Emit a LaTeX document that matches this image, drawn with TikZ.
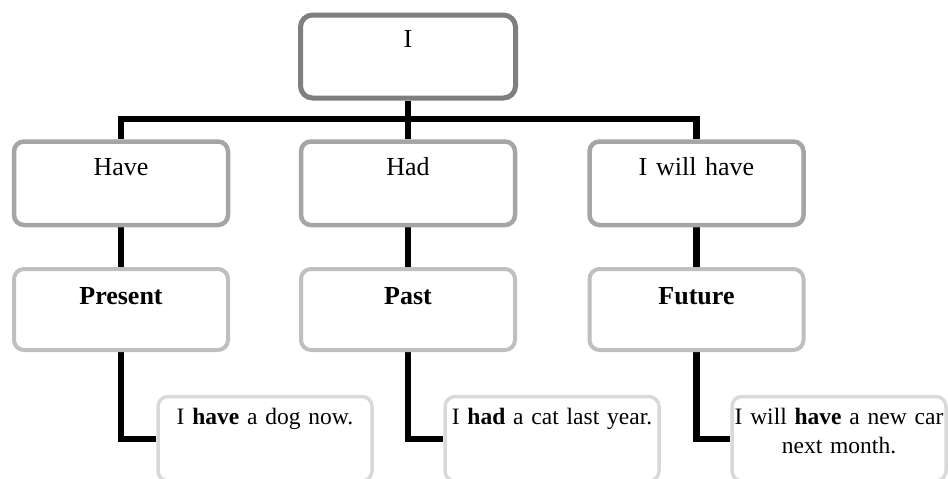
\documentclass[tikz,border=0pt]{standalone}
\usepackage{fontspec}
\setmainfont{Liberation Serif}
\usetikzlibrary{backgrounds}
\definecolor{rootgray}{HTML}{7F7F7F}
\definecolor{verbgray}{HTML}{A5A5A5}
\definecolor{tensegray}{HTML}{BFBFBF}
\definecolor{examplegray}{HTML}{D9D9D9}
\begin{document}
\begin{tikzpicture}[x=1pt, y=-1pt,
	box/.style={draw, fill=white, rounded corners=10pt, inner sep=0pt, text width=214pt, align=center, anchor=north},
	rootbox/.style={box, draw=rootgray, line width=5pt, rounded corners=12pt, text width=215pt, text height=32.5pt, text depth=50.5pt, font=\fontsize{26}{30}\selectfont},
	verbbox/.style={box, draw=verbgray, line width=4.5pt, text height=33.75pt, text depth=49.75pt, font=\fontsize{26}{30}\selectfont},
	tensebox/.style={box, draw=tensegray, line width=4pt, text height=35pt, text depth=46pt, font=\fontsize{26}{30}\bfseries\selectfont},
	examplebox/.style={box, draw=examplegray, line width=3.5pt, text height=28pt, text depth=56.5pt, font=\fontsize{23.5}{29}\selectfont},
	link/.style={line width=6.5pt}]
	\clip (0,0) rectangle (948,479);
	% Kotak utama
	\node[rootbox] (root) at (408,12.5) {I};
	% Baris kata kerja
	\node[verbbox] (have) at (121,139.25) {Have};
	\node[verbbox] (had) at (408,139.25) {Had};
	\node[verbbox] (willhave) at (696.5,139.25) {I will have};
	% Baris tenses
	\node[tensebox] (present) at (121,267) {Present};
	\node[tensebox] (past) at (408,267) {Past};
	\node[tensebox] (future) at (696.5,267) {Future};
	% Baris contoh kalimat
	\node[examplebox] (expresent) at (265,394.75) {I \textbf{have} a dog now.};
	\node[examplebox] (expast) at (552,394.75) {I \textbf{had} a cat last year.};
	\node[examplebox] (exfuture) at (839,394.75) {I will \textbf{have} a new car\\next month.};
	\coordinate (bus) at (408,119);

	% Garis penghubung
	\begin{pgfonlayer}{background}
		\draw[link] (root) -- (bus);
		\draw[link] (have.north) |- (bus) -| (willhave.north);
		\draw[link] (bus) -- (had);
		\draw[link] (have) -- (present);
		\draw[link] (had) -- (past);
		\draw[link] (willhave) -- (future);
		\draw[link] (present.south) |- (expresent.west);
		\draw[link] (past.south) |- (expast.west);
		\draw[link] (future.south) |- (exfuture.west);
	\end{pgfonlayer}
\end{tikzpicture}
\end{document}
